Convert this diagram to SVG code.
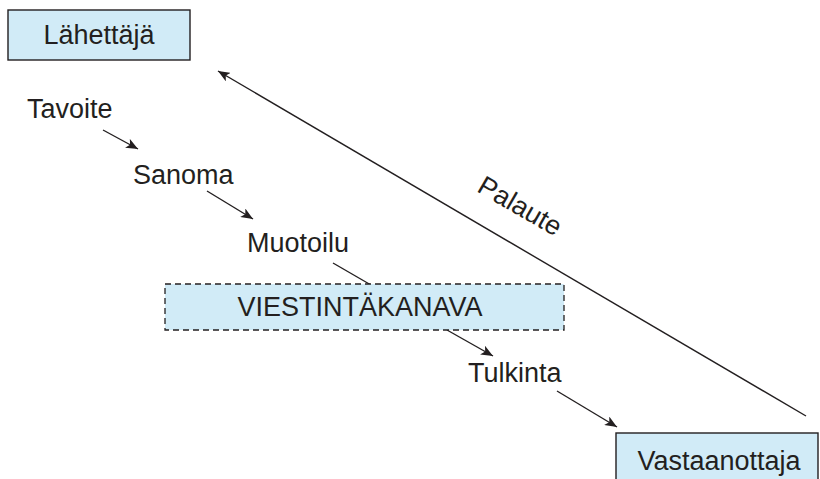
<svg xmlns="http://www.w3.org/2000/svg" width="820" height="479" viewBox="0 0 820 479">
  <style>
    .lbl { font-family: "Liberation Sans", Arial, sans-serif; font-size: 27px; fill: #231f20; }
    .box { fill: #d1ebf7; stroke: #231f20; stroke-width: 1.4; }
    .dash { fill: #d1ebf7; stroke: #231f20; stroke-width: 1.3; stroke-dasharray: 6 4; }
    .conn { stroke: #231f20; stroke-width: 1.4; fill: none; }
  </style>
  <defs>
    <marker id="arrow" markerUnits="userSpaceOnUse" markerWidth="14" markerHeight="10" refX="12" refY="5" orient="auto">
      <path d="M0,0 L12,5 L0,10 L3,5 Z" fill="#231f20"/>
    </marker>
  </defs>
  <rect width="820" height="479" fill="#ffffff"/>

  <g id="connectors">
    <line class="conn" x1="806" y1="416" x2="218" y2="71" marker-end="url(#arrow)"/>
    <line class="conn" x1="103" y1="130" x2="138" y2="149" marker-end="url(#arrow)"/>
    <line class="conn" x1="207" y1="191" x2="253" y2="219" marker-end="url(#arrow)"/>
    <line class="conn" x1="333" y1="263" x2="371" y2="285"/>
    <line class="conn" x1="447" y1="330" x2="493" y2="356" marker-end="url(#arrow)"/>
    <line class="conn" x1="557" y1="391" x2="617" y2="427" marker-end="url(#arrow)"/>
  </g>

  <g id="sender">
    <rect class="box" x="8" y="10" width="182" height="50"/>
    <text class="lbl" x="99" y="44" text-anchor="middle">Lähettäjä</text>
  </g>

  <g id="goal">
    <text class="lbl" x="27" y="118">Tavoite</text>
  </g>

  <g id="message">
    <text class="lbl" x="133" y="184">Sanoma</text>
  </g>

  <g id="encoding">
    <text class="lbl" x="247" y="252">Muotoilu</text>
  </g>

  <g id="channel">
    <rect class="dash" x="165" y="284" width="399" height="46"/>
    <text class="lbl" x="360" y="316" text-anchor="middle">VIESTINTÄKANAVA</text>
  </g>

  <g id="decoding">
    <text class="lbl" x="468" y="382">Tulkinta</text>
  </g>

  <g id="receiver">
    <rect class="box" x="616" y="433" width="202" height="60"/>
    <text class="lbl" x="719" y="470" text-anchor="middle">Vastaanottaja</text>
  </g>

  <g id="feedback">
    <text class="lbl" transform="translate(520,206) rotate(30)" x="0" y="9" text-anchor="middle">Palaute</text>
  </g>
</svg>
